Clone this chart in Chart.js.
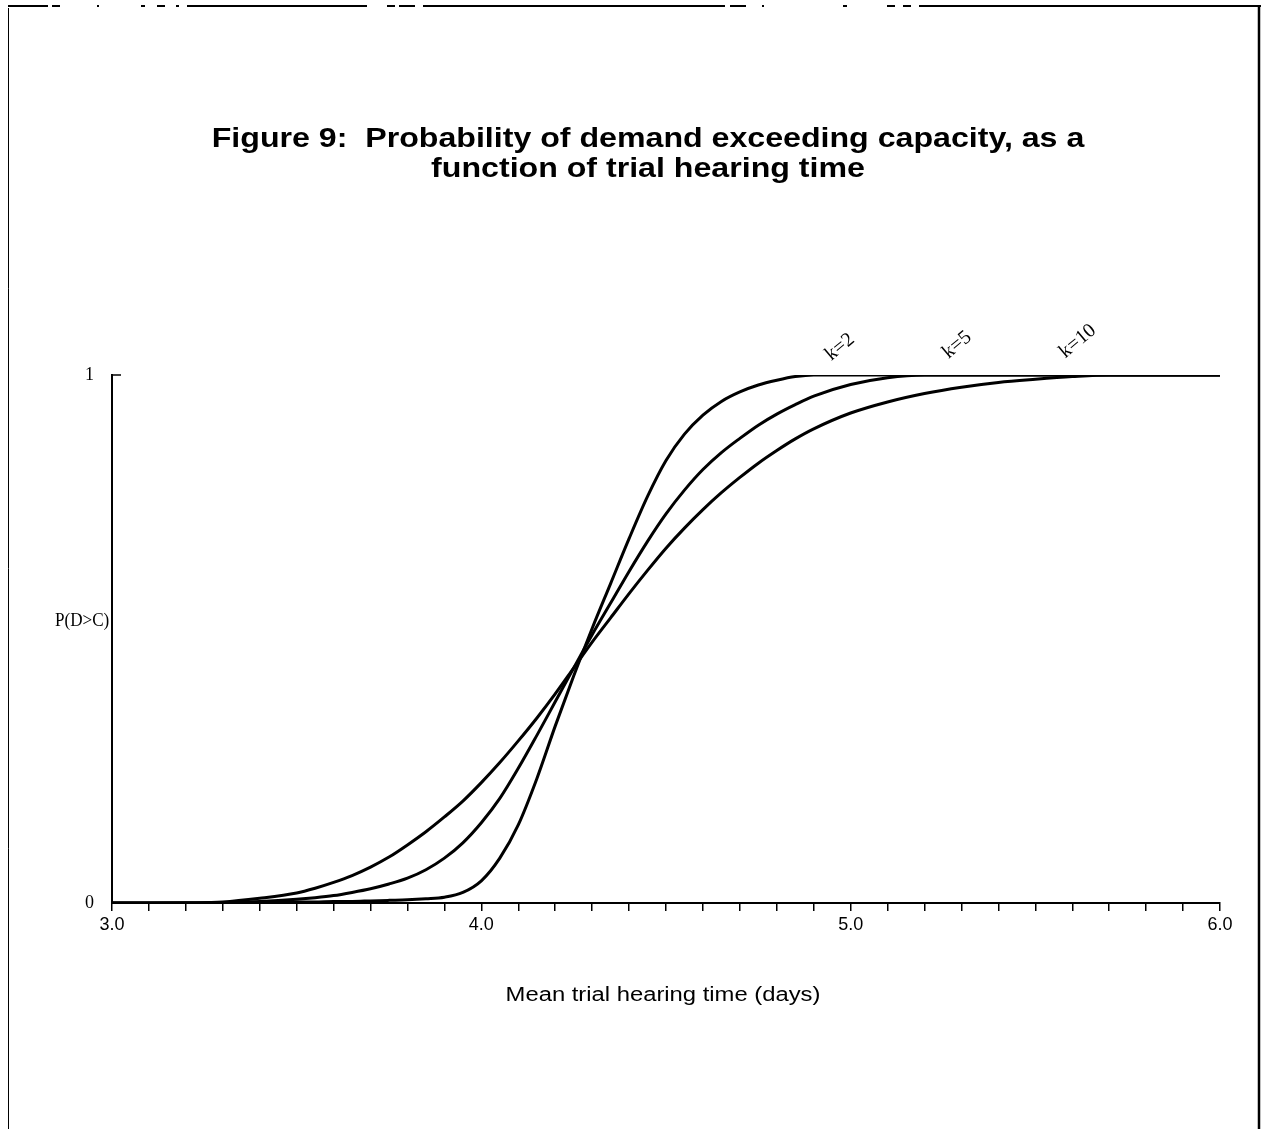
<!DOCTYPE html>
<html>
<head>
<meta charset="utf-8">
<script src="https://cdn.jsdelivr.net/npm/chart.js@4.4.0/dist/chart.umd.min.js"></script>
<style>
  html, body { margin: 0; padding: 0; background: #fff; }
  #wrap { position: relative; width: 1263px; height: 1129px; }
</style>
</head>
<body>
<div id="wrap"><canvas id="prob-chart"></canvas></div>
<script>
// Mean trial hearing time (days)
var x_values = [3.0, 3.1, 3.2, 3.3, 3.4,
                3.5, 3.55, 3.6, 3.65, 3.7, 3.75, 3.8, 3.85, 3.9, 3.95,
                4.0, 4.05, 4.1, 4.15, 4.2, 4.25, 4.3, 4.35, 4.4, 4.45,
                4.5, 4.55, 4.6, 4.65, 4.7, 4.75, 4.8, 4.85, 4.9,
                5.0, 5.1, 5.2, 5.3, 5.4, 5.5, 5.6, 5.7, 5.8, 5.9, 6.0];

// P(D>C)
var k2_values  = [0, 0, 0, 0, 0.001,
                  0.002, 0.002, 0.003, 0.003, 0.004, 0.005, 0.006, 0.008, 0.011, 0.02,
                  0.042, 0.085, 0.148, 0.235, 0.335, 0.43, 0.52, 0.605, 0.69, 0.77,
                  0.838, 0.888, 0.924, 0.95, 0.968, 0.981, 0.99, 0.997, 1.0,
                  1.0, 1.0, 1.0, 1.0, 1.0, 1.0, 1.0, 1.0, 1.0, 1.0, 1.0];
var k5_values  = [0, 0, 0, 0.001, 0.003,
                  0.007, 0.01, 0.014, 0.02, 0.027, 0.036, 0.047, 0.063, 0.085, 0.114,
                  0.152, 0.198, 0.255, 0.317, 0.381, 0.445, 0.508, 0.568, 0.628, 0.685,
                  0.737, 0.782, 0.821, 0.853, 0.88, 0.905, 0.926, 0.944, 0.96,
                  0.982, 0.995, 1.0, 1.0, 1.0, 1.0, 1.0, 1.0, 1.0, 1.0, 1.0];
var k10_values = [0, 0, 0.0005, 0.002, 0.009,
                  0.019, 0.028, 0.039, 0.052, 0.068, 0.087, 0.11, 0.135, 0.163, 0.193,
                  0.228, 0.266, 0.307, 0.35, 0.396, 0.445, 0.494, 0.54, 0.586, 0.63,
                  0.672, 0.71, 0.745, 0.777, 0.806, 0.833, 0.857, 0.879, 0.898,
                  0.928, 0.949, 0.965, 0.977, 0.986, 0.992, 0.997, 1.0, 1.0, 1.0, 1.0];

var x_tick_labels = ['3.0', '4.0', '5.0', '6.0'];
var y_tick_labels = ['0', '1'];
var curve_labels = ['k=2', 'k=5', 'k=10'];
var curve_label_x = [4.971, 5.288, 5.615];
var curve_label_y = [1.053, 1.057, 1.064];

var title_lines = ['Figure 9:  Probability of demand exceeding capacity, as a', 'function of trial hearing time'];
var x_title = 'Mean trial hearing time (days)';
var y_title = 'P(D>C)';

function to_points(ys)
{
  return x_values.map(function (x, i) { return {x: x, y: ys[i]}; });
}

function make_dataset(ys, label)
{
  return {
    label: label,
    data: to_points(ys),
    borderColor: '#000',
    borderWidth: 3,
    pointRadius: 0,
    fill: false,
    cubicInterpolationMode: 'monotone'
  };
}

// Frame round the page (scan border, broken at the top)
var top_frame_segments = [[8, 48], [52, 60], [97, 99], [141, 145], [157, 165], [176, 179], [187, 367],
                          [387, 395], [399, 415], [423, 725], [730, 746], [762, 764], [843, 847], [887, 895], [903, 911], [919, 1261]];

// draw text stretched sideways, the scan is wider than the font
function stretched_text(ctx, text, cx, cy, sx)
{
  ctx.save();
  ctx.translate(cx, cy);
  ctx.scale(sx, 1);
  ctx.fillText(text, 0, 0);
  ctx.restore();
}

var extras = {
  id: 'extras',
  afterDraw: function (chart)
  {
    var ctx = chart.ctx;
    var xs = chart.scales.x;
    var ys = chart.scales.y;
    var area = chart.chartArea;
    ctx.save();
    ctx.fillStyle = '#000';
    ctx.strokeStyle = '#000';

    // title
    ctx.textAlign = 'center';
    ctx.textBaseline = 'middle';
    ctx.font = 'bold 27px "Liberation Sans", Arial, sans-serif';
    stretched_text(ctx, title_lines[0], 648, 140, 1.19);
    stretched_text(ctx, title_lines[1], 648, 170, 1.19);

    // x axis title
    ctx.font = '20px "Liberation Sans", Arial, sans-serif';
    stretched_text(ctx, x_title, 663, 995, 1.19);

    // y axis title
    ctx.font = '19px "Liberation Serif", "Times New Roman", serif';
    ctx.textAlign = 'left';
    ctx.save();
    ctx.translate(55, ys.getPixelForValue(0.5) - 18);
    ctx.scale(0.9, 1);
    ctx.fillText(y_title, 0, 0);
    ctx.restore();

    // curve labels
    ctx.font = '20px "Liberation Serif", "Times New Roman", serif';
    ctx.textAlign = 'center';
    for (var i = 0; i < curve_labels.length; i++)
    {
      ctx.save();
      ctx.translate(xs.getPixelForValue(curve_label_x[i]), ys.getPixelForValue(curve_label_y[i]));
      ctx.rotate(-40 * Math.PI / 180);
      ctx.fillText(curve_labels[i], 0, 0);
      ctx.restore();
    }

    // inward tick at y = 1
    ctx.lineWidth = 1.5;
    ctx.beginPath();
    ctx.moveTo(area.left, ys.getPixelForValue(1));
    ctx.lineTo(area.left + 9, ys.getPixelForValue(1));
    ctx.stroke();

    // page frame
    ctx.lineWidth = 2;
    ctx.beginPath();
    top_frame_segments.forEach(function (s) {
      ctx.moveTo(s[0], 6);
      ctx.lineTo(s[1], 6);
    });
    ctx.stroke();
    ctx.lineWidth = 1;
    ctx.beginPath();
    ctx.moveTo(8.5, 8);
    ctx.lineTo(8.5, 1129);
    ctx.stroke();
    ctx.lineWidth = 2.5;
    ctx.beginPath();
    ctx.moveTo(1259, 6);
    ctx.lineTo(1259, 1129);
    ctx.stroke();
    ctx.restore();
  }
};

var prob_chart = new Chart(document.getElementById('prob-chart'), {
  type: 'line',
  data: {
    datasets: [
      make_dataset(k2_values, curve_labels[0]),
      make_dataset(k5_values, curve_labels[1]),
      make_dataset(k10_values, curve_labels[2])
    ]
  },
  options: {
    animation: false,
    responsive: true,
    maintainAspectRatio: false,
    layout: {
      padding: { left: 0, right: 43, top: 375, bottom: 0 }
    },
    plugins: {
      legend: { display: false },
      tooltip: { enabled: false },
      title: { display: false }
    },
    scales: {
      x: {
        type: 'linear',
        min: 3,
        max: 6,
        afterFit: function (scale) { scale.height = 226; },
        ticks: {
          stepSize: 0.1,
          autoSkip: false,
          maxRotation: 0,
          padding: 3,
          color: '#000',
          font: { family: '"Liberation Sans", Arial, sans-serif', size: 18 },
          callback: function (v) {
            var r = Math.round(v);
            if (Math.abs(v - r) > 1e-6) return '';
            return x_tick_labels[r - 3];
          }
        },
        grid: { drawOnChartArea: false, drawTicks: true, tickLength: 8, color: '#000', lineWidth: 1.5 },
        border: { color: '#000', width: 2 }
      },
      y: {
        type: 'linear',
        min: 0,
        max: 1,
        afterFit: function (scale) { scale.width = 112; },
        ticks: {
          stepSize: 1,
          padding: 18,
          color: '#000',
          font: { family: '"Liberation Serif", "Times New Roman", serif', size: 18 },
          callback: function (v) { return y_tick_labels[Math.round(v)]; }
        },
        grid: { drawOnChartArea: false, drawTicks: false },
        border: { color: '#000', width: 2 }
      }
    }
  },
  plugins: [extras]
});
</script>
</body>
</html>
